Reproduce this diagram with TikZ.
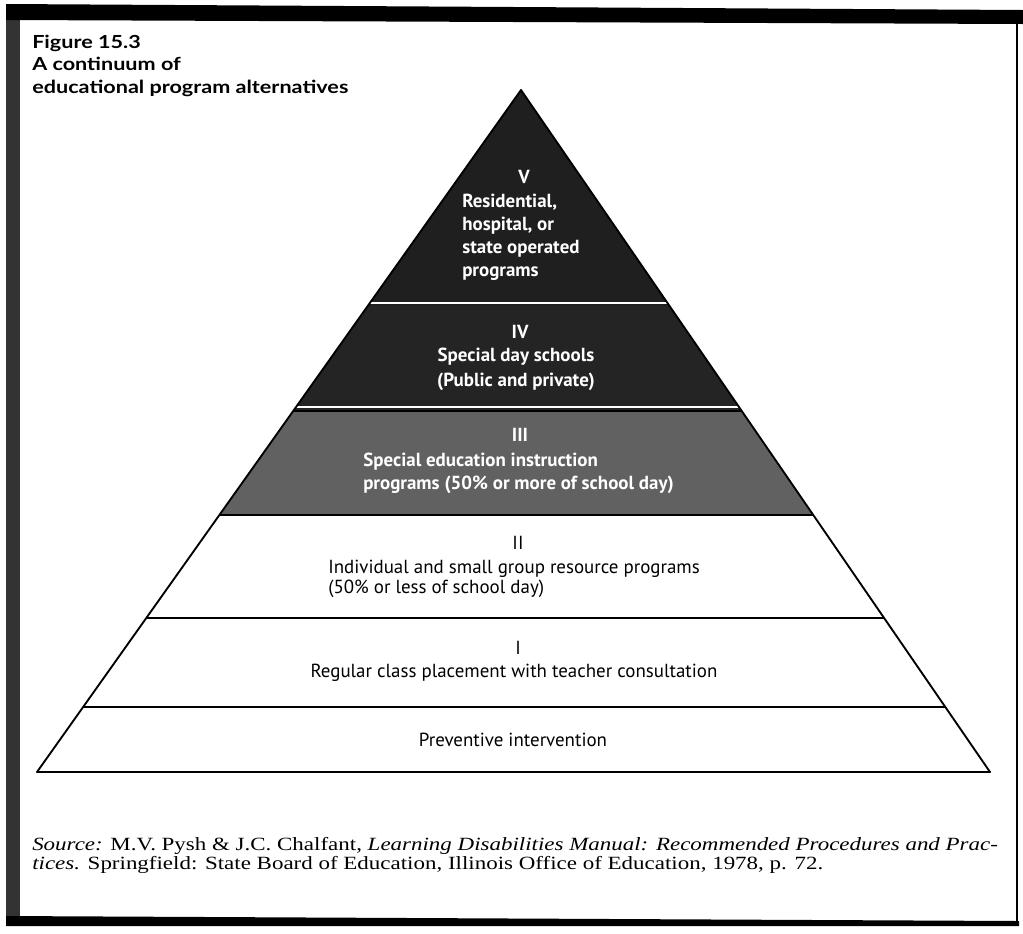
\documentclass[tikz,border=0pt]{standalone}
\usepackage{fontspec}
\setmainfont{Liberation Serif}
\newfontfamily\headfont{Lato}
\newfontfamily\bandfont{PT Sans}
\usepackage{xcolor}

\tikzset{
  bandtext/.style={inner sep=0.75pt, font=\bandfont\fontsize{14.2}{15}\selectfont},
  darktext/.style={inner sep=0.75pt, text=white, font=\bandfont\bfseries\fontsize{14.2}{17.3}\selectfont},
  bandline/.style={line width=1.4}
}

\begin{document}
\begin{tikzpicture}[x=0.75pt,y=0.75pt,yscale=-1,xscale=1]
\path [use as bounding box] (0,0) rectangle (1023,933);

%Frame
\fill [black!80] (6,4) rectangle (20,926) ;
\fill [black] (6,4) -- (1023,10) -- (1023,24) -- (6,20) -- cycle ;
\fill [black] (6,916) -- (1019,921) -- (1019,926) -- (6,926) -- cycle ;
\draw [line width=2.2] (1017,22) -- (1017,926) ;

%Shaded levels V, IV, III
\fill [black!88] (521,90) -- (367.7,306) -- (669.5,306) -- cycle ;
\fill [black!86] (367.7,306) -- (293.2,411) -- (741.8,411) -- (669.5,306) -- cycle ;
\fill [black!62] (293.2,411) -- (219.4,515) -- (813.3,515) -- (741.8,411) -- cycle ;
\draw [white, line width=1.5] (369,303) -- (668,303) ;
\draw [white, line width=1.5] (296,407) -- (739,407) ;

%Pyramid outline and level lines
\draw [bandline, line join=round] (521,90) -- (37,772) -- (990,772) -- cycle ;
\draw [bandline] (293.2,411) -- (741.8,411) ;
\draw [bandline] (219.4,515) -- (813.3,515) ;
\draw [bandline] (146.3,618) -- (884.1,618) ;
\draw [bandline] (83.1,707) -- (945.3,707) ;

% Title
\node (title) at (32,48) [anchor=base west, inner sep=0pt, font=\headfont\bfseries\fontsize{13.5}{14.5}\selectfont] {\scalebox{1.2}[1]{\begin{tabular}[t]{@{}l@{}}Figure 15.3\\[2.5pt]A continuum of\\[2.5pt]educational program alternatives\end{tabular}}};

% Level V
\node (vNum) at (524,177) [darktext] {V};
\node (vText) at (461,237) [darktext, anchor=west, align=left] {Residential,\\hospital, or\\state operated\\programs};
% Level IV
\node (ivNum) at (520,332) [darktext] {IV};
\node (ivText) at (516,369.5) [darktext, align=center, font=\bandfont\bfseries\fontsize{14.2}{18.75}\selectfont] {Special day schools\\(Public and private)};
% Level III
\node (iiiNum) at (520,435) [darktext] {III};
\node (iiiText) at (362,473.5) [darktext, anchor=west, align=left] {Special education instruction\\programs (50\% or more of school day)};
% Level II
\node (iiNum) at (518,543) [bandtext] {II};
\node (iiText) at (327,579) [bandtext, anchor=west, align=left] {Individual and small group resource programs\\(50\% or less of school day)};
% Level I
\node (iNum) at (518,648) [bandtext] {I};
\node (iText) at (514,673) [bandtext] {Regular class placement with teacher consultation};
% Preventive
\node (prev) at (513,740) [bandtext] {Preventive intervention};

% Source
\node (source) at (32,850) [anchor=base west, inner sep=0pt, font=\fontsize{14}{14.5}\selectfont] {\scalebox{1.23}[1]{\begin{tabular}[t]{@{}l@{}}\textit{Source:} M.V. Pysh \& J.C. Chalfant, \textit{Learning Disabilities Manual: Recommended Procedures and Prac-}\\\textit{tices.} Springfield: State Board of Education, Illinois Office of Education, 1978, p. 72.\end{tabular}}};

\end{tikzpicture}
\end{document}
